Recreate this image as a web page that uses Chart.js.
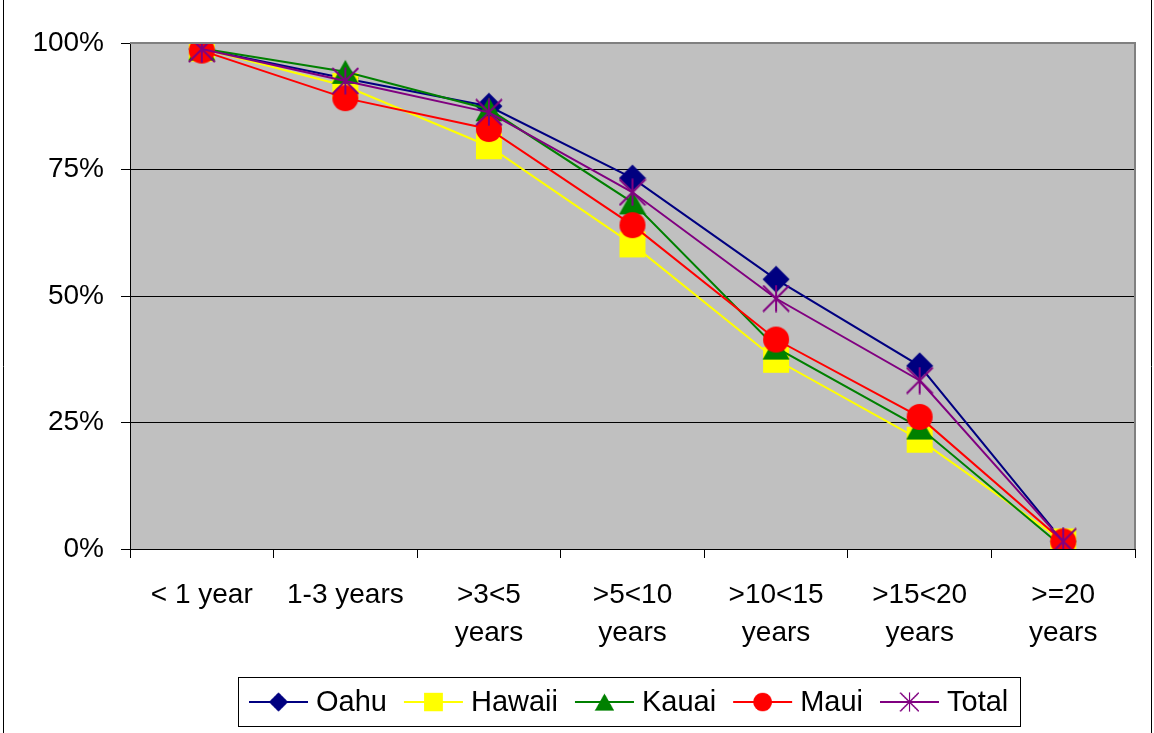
<!DOCTYPE html>
<html>
<head>
<meta charset="utf-8">
<script src="https://cdn.jsdelivr.net/npm/chart.js@4/dist/chart.umd.min.js"></script>
<style>
  html, body { margin: 0; padding: 0; background: #ffffff; }
  canvas { display: block; }
</style>
</head>
<body>
<canvas id="grafica" width="1154" height="733"></canvas>
<script>
// categorías y valores (% de cada isla)
const categorias = [["< 1 year"], ["1-3 years"], [">3<5", "years"], [">5<10", "years"], [">10<15", "years"], [">15<20", "years"], [">=20", "years"]];
const oahu   = [98.8, 93.0, 87.5, 73.3, 53.3, 36.2, 1.5];
const hawaii = [98.9, 91.5, 79.6, 60.2, 37.4, 21.6, 1.5];
const kauai  = [98.9, 94.3, 86.9, 68.5, 39.8, 24.0, 0.3];
const maui   = [98.5, 89.1, 83.0, 64.0, 41.4, 26.1, 1.5];
const total  = [98.8, 92.5, 86.3, 70.5, 49.5, 33.3, 1.5];
const seriesNombres = ["Oahu", "Hawaii", "Kauai", "Maui", "Total"];
const ticksY = [0, 25, 50, 75, 100];

const fuente = "'Liberation Sans', Arial, sans-serif";

// marcadores tipo Excel dibujados en un canvas pequeño
function marcador(tipo, color) {
  const c = document.createElement("canvas");
  c.width = 28; c.height = 28;
  const g = c.getContext("2d");
  g.fillStyle = color;
  g.strokeStyle = color;
  if (tipo === "diamante") {
    g.beginPath();
    g.moveTo(14, 0.5); g.lineTo(27.5, 14); g.lineTo(14, 27.5); g.lineTo(0.5, 14);
    g.closePath(); g.fill();
  } else if (tipo === "cuadrado") {
    g.fillRect(1, 1, 26, 26);
  } else if (tipo === "triangulo") {
    g.beginPath();
    g.moveTo(14, 2); g.lineTo(27.5, 26); g.lineTo(0.5, 26);
    g.closePath(); g.fill();
  } else if (tipo === "circulo") {
    g.beginPath(); g.arc(14, 14, 13, 0, Math.PI * 2); g.fill();
  } else if (tipo === "asterisco") {
    g.lineWidth = 2;
    g.beginPath();
    g.moveTo(14, 0.5); g.lineTo(14, 27.5);
    g.moveTo(1, 1); g.lineTo(27, 27);
    g.moveTo(27, 1); g.lineTo(1, 27);
    g.stroke();
  }
  return c;
}

const colores = ["#000080", "#FFFF00", "#008000", "#FF0000", "#800080"];
const tipos = ["diamante", "cuadrado", "triangulo", "circulo", "asterisco"];
const valores = [oahu, hawaii, kauai, maui, total];

const datasets = valores.map((v, i) => ({
  label: seriesNombres[i],
  data: v,
  borderColor: colores[i],
  backgroundColor: colores[i],
  borderWidth: 2,
  pointStyle: marcador(tipos[i], colores[i]),
  pointRadius: 14,
  tension: 0,
  order: 5 - i
}));

// fondo gris del área de trazado, bordes y leyenda
const decoracion = {
  id: "decoracion",
  beforeDraw(chart) {
    const { ctx, chartArea: a } = chart;
    ctx.save();
    ctx.fillStyle = "#C0C0C0";
    ctx.fillRect(a.left, a.top, a.right - a.left, a.bottom - a.top);
    ctx.restore();
  },
  afterDatasetsDraw(chart) {
    const { ctx, chartArea: a } = chart;
    ctx.save();
    ctx.strokeStyle = "#808080";
    ctx.lineWidth = 2;
    ctx.beginPath();
    ctx.moveTo(a.left, a.top);
    ctx.lineTo(a.right, a.top);
    ctx.lineTo(a.right, a.bottom);
    ctx.stroke();
    ctx.restore();
  },
  afterDraw(chart) {
    const ctx = chart.ctx;
    ctx.save();
    // borde del gráfico
    ctx.strokeStyle = "#000000";
    ctx.lineWidth = 1;
    ctx.beginPath();
    ctx.moveTo(3.5, 0); ctx.lineTo(3.5, 733);
    ctx.moveTo(1151.5, 0); ctx.lineTo(1151.5, 733);
    ctx.stroke();

    // leyenda
    ctx.strokeRect(238.5, 677.5, 782, 49);
    ctx.font = "29px " + fuente;
    ctx.textBaseline = "middle";
    ctx.textAlign = "left";
    let x = 249;
    const y = 702;
    chart.data.datasets.forEach(ds => {
      ctx.strokeStyle = ds.borderColor;
      ctx.lineWidth = 2;
      ctx.beginPath();
      ctx.moveTo(x, y); ctx.lineTo(x + 59, y);
      ctx.stroke();
      ctx.drawImage(ds.pointStyle, x + 29.5 - 10, y - 10, 20, 20);
      ctx.fillStyle = "#000000";
      ctx.fillText(ds.label, x + 67, y + 1);
      x += 67 + ctx.measureText(ds.label).width + 17;
    });
    ctx.restore();
  }
};

new Chart(document.getElementById("grafica"), {
  type: "line",
  data: { labels: categorias, datasets },
  options: {
    responsive: false,
    animation: false,
    events: [],
    layout: { padding: { top: 43, right: 19, left: 0, bottom: 0 } },
    plugins: {
      legend: { display: false },
      tooltip: { enabled: false }
    },
    scales: {
      x: {
        offset: true,
        afterFit: s => { s.height = 184; },
        grid: {
          offset: true,
          drawOnChartArea: false,
          tickLength: 9,
          tickColor: "#000000",
          lineWidth: 1
        },
        border: { display: true, color: "#000000", width: 1 },
        ticks: {
          color: "#000000",
          font: { family: fuente, size: 28, lineHeight: 1.33 },
          padding: 19,
          maxRotation: 0,
          autoSkip: false
        }
      },
      y: {
        min: 0,
        max: 100,
        afterFit: s => { s.width = 130; },
        afterBuildTicks: s => { s.ticks = ticksY.map(v => ({ value: v })); },
        grid: {
          color: ctx => (ctx.tick && ctx.tick.value === 100 ? "#808080" : "#000000"),
          tickColor: "#000000",
          tickLength: 9,
          lineWidth: 1
        },
        border: { display: true, color: "#000000", width: 1 },
        ticks: {
          color: "#000000",
          font: { family: fuente, size: 28 },
          padding: 17,
          callback: v => v + "%"
        }
      }
    }
  },
  plugins: [decoracion]
});
</script>
</body>
</html>
